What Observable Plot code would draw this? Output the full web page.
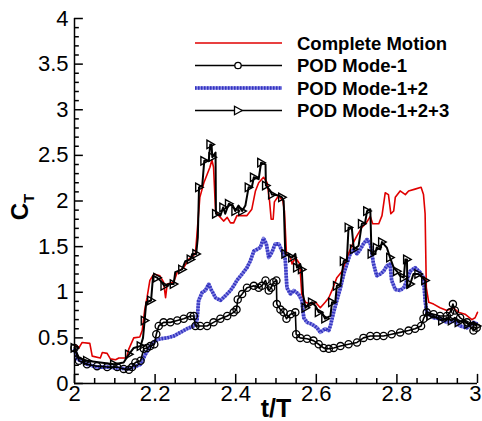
<!DOCTYPE html>
<html><head><meta charset="utf-8">
<script src="https://cdn.jsdelivr.net/npm/d3@7"></script>
<script src="https://cdn.jsdelivr.net/npm/@observablehq/plot@0.6"></script>
<style>
body{margin:0;background:#fff}
svg{font-family:Arial,"Liberation Sans",sans-serif}
</style>
</head><body><div id="chart"></div>
<script>
// ---- data: [t/T, C_T] ----
const completeMotion = [[2.000,0.43],[2.011,0.39],[2.019,0.45],[2.038,0.44],[2.044,0.30],[2.064,0.28],[2.069,0.34],[2.081,0.33],[2.089,0.27],[2.102,0.26],[2.110,0.28],[2.129,0.28],[2.135,0.38],[2.147,0.50],[2.162,0.51],[2.168,0.58],[2.174,0.80],[2.180,0.94],[2.187,1.13],[2.197,1.20],[2.212,1.18],[2.221,1.11],[2.226,0.94],[2.230,1.09],[2.246,1.11],[2.255,1.22],[2.271,1.27],[2.283,1.36],[2.300,1.42],[2.304,1.64],[2.311,2.04],[2.321,2.20],[2.329,2.29],[2.336,2.37],[2.341,2.45],[2.345,2.37],[2.350,1.89],[2.358,1.84],[2.370,1.78],[2.379,1.82],[2.387,1.76],[2.395,1.76],[2.403,1.84],[2.428,1.84],[2.440,1.91],[2.449,2.11],[2.457,2.20],[2.469,2.26],[2.478,2.20],[2.484,2.00],[2.488,1.80],[2.493,1.80],[2.496,1.99],[2.507,2.06],[2.517,2.00],[2.521,1.89],[2.526,1.42],[2.536,1.38],[2.540,1.31],[2.548,1.38],[2.559,1.31],[2.564,0.98],[2.573,0.89],[2.585,0.87],[2.598,0.89],[2.610,0.83],[2.622,0.89],[2.631,0.94],[2.639,1.02],[2.651,1.16],[2.664,1.23],[2.676,1.38],[2.688,1.51],[2.701,1.62],[2.713,1.71],[2.724,1.76],[2.734,1.83],[2.740,1.75],[2.755,1.75],[2.763,1.84],[2.771,2.09],[2.779,2.07],[2.785,1.86],[2.792,1.89],[2.796,2.04],[2.808,2.11],[2.821,2.07],[2.829,2.11],[2.845,2.13],[2.860,2.15],[2.866,2.07],[2.870,1.86],[2.873,1.05],[2.879,0.89],[2.891,0.87],[2.907,0.83],[2.924,0.80],[2.940,0.83],[2.953,0.78],[2.969,0.76],[2.986,0.70],[2.994,0.72],[3.000,0.78]];

const podMode1 = [[2.000,0.39],[2.011,0.25],[2.031,0.21],[2.056,0.19],[2.081,0.18],[2.106,0.18],[2.122,0.16],[2.135,0.15],[2.143,0.18],[2.151,0.23],[2.164,0.25],[2.172,0.38],[2.180,0.39],[2.188,0.41],[2.198,0.43],[2.203,0.54],[2.209,0.63],[2.221,0.67],[2.238,0.67],[2.255,0.69],[2.271,0.71],[2.288,0.74],[2.296,0.74],[2.300,0.63],[2.312,0.63],[2.329,0.63],[2.345,0.67],[2.362,0.71],[2.379,0.74],[2.395,0.78],[2.402,0.81],[2.405,0.92],[2.416,0.98],[2.428,1.05],[2.445,1.07],[2.457,1.05],[2.465,1.07],[2.474,1.13],[2.482,1.02],[2.488,1.05],[2.494,1.11],[2.501,1.13],[2.502,0.87],[2.511,0.81],[2.519,0.78],[2.526,0.71],[2.536,0.76],[2.548,0.78],[2.550,0.54],[2.560,0.50],[2.577,0.49],[2.593,0.47],[2.606,0.43],[2.618,0.39],[2.631,0.38],[2.643,0.39],[2.660,0.41],[2.680,0.43],[2.701,0.45],[2.717,0.50],[2.734,0.52],[2.750,0.52],[2.767,0.52],[2.787,0.54],[2.808,0.56],[2.829,0.58],[2.845,0.60],[2.860,0.63],[2.866,0.71],[2.874,0.78],[2.891,0.76],[2.907,0.74],[2.924,0.74],[2.932,0.78],[2.939,0.87],[2.944,0.80],[2.957,0.72],[2.974,0.67],[2.990,0.58],[2.998,0.61]];

const podMode12 = [[2.000,0.38],[2.007,0.27],[2.031,0.21],[2.056,0.18],[2.081,0.18],[2.106,0.17],[2.131,0.16],[2.147,0.18],[2.164,0.21],[2.176,0.32],[2.188,0.41],[2.201,0.47],[2.213,0.49],[2.230,0.50],[2.246,0.52],[2.263,0.56],[2.279,0.60],[2.296,0.63],[2.304,0.69],[2.308,0.91],[2.317,1.00],[2.325,1.02],[2.333,1.09],[2.339,1.03],[2.350,0.94],[2.362,0.91],[2.374,0.96],[2.387,1.02],[2.395,1.07],[2.403,1.13],[2.416,1.20],[2.428,1.27],[2.436,1.34],[2.445,1.45],[2.453,1.47],[2.461,1.49],[2.469,1.59],[2.476,1.53],[2.482,1.38],[2.490,1.44],[2.498,1.53],[2.507,1.53],[2.515,1.45],[2.523,1.36],[2.527,1.05],[2.536,0.98],[2.544,1.02],[2.556,0.98],[2.564,0.91],[2.569,0.72],[2.577,0.67],[2.589,0.65],[2.602,0.61],[2.610,0.56],[2.622,0.60],[2.631,0.58],[2.636,0.65],[2.643,0.78],[2.651,0.91],[2.660,1.05],[2.668,1.20],[2.676,1.31],[2.684,1.42],[2.693,1.47],[2.701,1.42],[2.709,1.47],[2.717,1.53],[2.726,1.58],[2.734,1.53],[2.742,1.31],[2.750,1.18],[2.759,1.20],[2.767,1.23],[2.775,1.29],[2.783,1.31],[2.787,1.13],[2.796,1.03],[2.808,1.02],[2.817,1.05],[2.825,1.13],[2.833,1.23],[2.845,1.27],[2.857,1.22],[2.866,1.16],[2.870,0.91],[2.874,0.78],[2.891,0.72],[2.907,0.71],[2.924,0.67],[2.940,0.69],[2.957,0.63],[2.974,0.61],[2.990,0.67],[3.000,0.65]];

const podMode123 = [[2.000,0.39],[2.011,0.28],[2.031,0.25],[2.064,0.23],[2.098,0.21],[2.122,0.23],[2.135,0.32],[2.147,0.39],[2.164,0.41],[2.170,0.50],[2.174,0.69],[2.178,0.89],[2.190,0.91],[2.195,1.18],[2.205,1.16],[2.213,1.13],[2.223,1.07],[2.234,1.09],[2.246,1.09],[2.250,1.22],[2.267,1.25],[2.275,1.34],[2.288,1.36],[2.292,1.42],[2.302,1.42],[2.306,1.60],[2.309,2.15],[2.317,2.17],[2.322,2.44],[2.333,2.44],[2.337,2.62],[2.340,2.62],[2.342,2.48],[2.350,2.53],[2.351,1.86],[2.362,1.84],[2.369,1.93],[2.374,1.86],[2.383,1.97],[2.393,1.95],[2.399,1.89],[2.407,1.95],[2.416,1.89],[2.424,1.95],[2.432,2.15],[2.440,2.15],[2.445,2.26],[2.457,2.24],[2.463,2.42],[2.474,2.40],[2.475,2.17],[2.486,2.11],[2.490,2.07],[2.507,2.06],[2.515,2.04],[2.519,2.00],[2.523,1.42],[2.531,1.40],[2.540,1.38],[2.548,1.42],[2.552,1.27],[2.560,1.31],[2.564,1.25],[2.567,0.98],[2.573,0.83],[2.581,0.87],[2.589,0.89],[2.598,0.85],[2.606,0.78],[2.614,0.78],[2.622,0.71],[2.635,0.74],[2.639,0.89],[2.647,0.89],[2.651,1.07],[2.660,1.09],[2.668,1.34],[2.676,1.36],[2.680,1.71],[2.688,1.71],[2.693,1.47],[2.705,1.51],[2.713,1.75],[2.721,1.76],[2.726,1.89],[2.734,1.91],[2.737,1.42],[2.746,1.42],[2.750,1.49],[2.759,1.47],[2.763,1.55],[2.775,1.49],[2.783,1.38],[2.792,1.27],[2.800,1.23],[2.808,1.18],[2.817,1.16],[2.821,1.36],[2.825,1.36],[2.826,1.05],[2.833,1.09],[2.841,1.20],[2.853,1.20],[2.864,1.16],[2.870,1.13],[2.874,0.76],[2.883,0.74],[2.899,0.72],[2.912,0.69],[2.924,0.72],[2.936,0.69],[2.944,0.72],[2.953,0.67],[2.965,0.69],[2.977,0.65],[2.990,0.67],[2.998,0.63]];

const seriesNames = ["Complete Motion","POD Mode-1","POD Mode-1+2","POD Mode-1+2+3"];
const xMajorTicks = [2, 2.2, 2.4, 2.6, 2.8, 3];
const xMinorTicks = [2.05,2.1,2.15,2.25,2.3,2.35,2.45,2.5,2.55,2.65,2.7,2.75,2.85,2.9,2.95];
const yMajorTicks = [0, 0.5, 1, 1.5, 2, 2.5, 3, 3.5, 4];
const yMinorTicks = [0.1,0.2,0.3,0.4,0.6,0.7,0.8,0.9,1.1,1.2,1.3,1.4,1.6,1.7,1.8,1.9,2.1,2.2,2.3,2.4,2.6,2.7,2.8,2.9,3.1,3.2,3.3,3.4,3.6,3.7,3.8,3.9];

const toRows = arr => arr.map(([t, v]) => ({t, v}));
const cm = toRows(completeMotion), m1 = toRows(podMode1), m12 = toRows(podMode12), m123 = toRows(podMode123);

const triRight = {
  draw(ctx, size) {
    const r = Math.sqrt(size / Math.PI);
    ctx.moveTo(-r * 0.8, -r);
    ctx.lineTo(r, 0);
    ctx.lineTo(-r * 0.8, r);
    ctx.closePath();
  }
};

const RED = "#e00000", BLUE_L = "#8484e2", BLUE_D = "#3434c0";
const BLUE_W = 3.6, BLUE_DASH = "1.5,1.5";

// inward tick lengths (in axis units: ~9px and ~5px)
const X_MIN = 2, Y_MIN = 0;
const yTickMajor = 0.022, yTickMinor = 0.012, xTickMajor = 0.1, xTickMinor = 0.055;
const tickStyle = {stroke: "black", strokeWidth: 1.5};

const plot = Plot.plot({
  width: 482, height: 421,
  marginLeft: 74, marginRight: 5, marginTop: 18, marginBottom: 38,
  x: {domain: [2, 3]},
  y: {domain: [0, 4]},
  style: {fontFamily: "Arial, 'Liberation Sans', sans-serif", fontSize: "22px", background: "white", color: "black"},
  marks: [
    Plot.line(m12, {x: "t", y: "v", stroke: BLUE_L, strokeWidth: BLUE_W, strokeLinecap: "butt"}),
    Plot.line(m12, {x: "t", y: "v", stroke: BLUE_D, strokeWidth: BLUE_W, strokeDasharray: BLUE_DASH, strokeLinecap: "butt", strokeLinejoin: "miter"}),
    Plot.line(cm, {x: "t", y: "v", stroke: RED, strokeWidth: 1.6}),
    Plot.line(m1, {x: "t", y: "v", stroke: "black", strokeWidth: 1.6}),
    Plot.dot(m1, {x: "t", y: "v", r: 3.6, stroke: "black", strokeWidth: 1.3, fill: "none"}),
    Plot.line(m123, {x: "t", y: "v", stroke: "black", strokeWidth: 2}),
    Plot.dot(m123.filter((d, i) => i % 2 === 0), {x: "t", y: "v", symbol: triRight, r: 4.2, stroke: "black", strokeWidth: 1.4, fill: "none"}),
    Plot.ruleX([X_MIN], {stroke: "black", strokeWidth: 1.5}),
    Plot.ruleY([Y_MIN], {stroke: "black", strokeWidth: 1.5}),
    Plot.ruleY(yMajorTicks, {y: d => d, x1: X_MIN, x2: X_MIN + yTickMajor, ...tickStyle}),
    Plot.ruleY(yMinorTicks, {y: d => d, x1: X_MIN, x2: X_MIN + yTickMinor, ...tickStyle}),
    Plot.ruleX(xMajorTicks, {x: d => d, y1: Y_MIN, y2: Y_MIN + xTickMajor, ...tickStyle}),
    Plot.ruleX(xMinorTicks, {x: d => d, y1: Y_MIN, y2: Y_MIN + xTickMinor, ...tickStyle}),
    Plot.axisY({ticks: yMajorTicks, anchor: "left", tickSize: 0, tickPadding: 6, tickFormat: d => String(d), label: null, fontSize: 22}),
    Plot.axisX({ticks: xMajorTicks.slice(0, -1), anchor: "bottom", tickSize: 0, tickPadding: 2, tickFormat: d => String(d), label: null, fontSize: 22}),
    Plot.axisX({ticks: xMajorTicks.slice(-1), anchor: "bottom", tickSize: 0, tickPadding: 2, tickFormat: d => String(d), label: null, fontSize: 22, textAnchor: "end", dx: 4})
  ]
});

document.getElementById("chart").appendChild(plot);

const svg = d3.select(plot);

// axis titles
svg.append("text").attr("x", 276).attr("y", 417).attr("text-anchor", "middle")
  .attr("font-size", 25).attr("font-weight", "bold").attr("fill", "black").text("t/T");
const yl = svg.append("text").attr("transform", "translate(28,207) rotate(-90)")
  .attr("text-anchor", "middle").attr("font-weight", "bold").attr("fill", "black").attr("font-size", 24);
yl.append("tspan").text("C");
yl.append("tspan").attr("font-size", 15).attr("dy", 6).text("T");

// legend
const lg = svg.append("g");
const rowsY = [43, 65.5, 88, 110.5];
const x1 = 195, x2 = 282, xm = 238, xt = 297;
seriesNames.forEach((name, i) => {
  const y = rowsY[i];
  if (i === 2) {
    lg.append("line").attr("x1", x1).attr("x2", x2).attr("y1", y).attr("y2", y).attr("stroke", BLUE_L).attr("stroke-width", BLUE_W);
    lg.append("line").attr("x1", x1).attr("x2", x2).attr("y1", y).attr("y2", y).attr("stroke", BLUE_D).attr("stroke-width", BLUE_W).attr("stroke-dasharray", BLUE_DASH);
  } else {
    lg.append("line").attr("x1", x1).attr("x2", x2).attr("y1", y).attr("y2", y)
      .attr("stroke", i === 0 ? RED : "black").attr("stroke-width", 1.6);
  }
  if (i === 1) lg.append("circle").attr("cx", xm).attr("cy", y).attr("r", 3.2).attr("fill", "white").attr("stroke", "black").attr("stroke-width", 1.3);
  if (i === 3) lg.append("path").attr("d", `M${xm-3.5},${y-4.2}L${xm+4.2},${y}L${xm-3.5},${y+4.2}Z`).attr("fill", "white").attr("stroke", "black").attr("stroke-width", 1.3);
  lg.append("text").attr("x", xt).attr("y", y + 6.5).attr("text-anchor", "start").attr("font-size", 18.5).attr("font-weight", "bold").attr("fill", "black").text(name);
});
</script></body></html>
